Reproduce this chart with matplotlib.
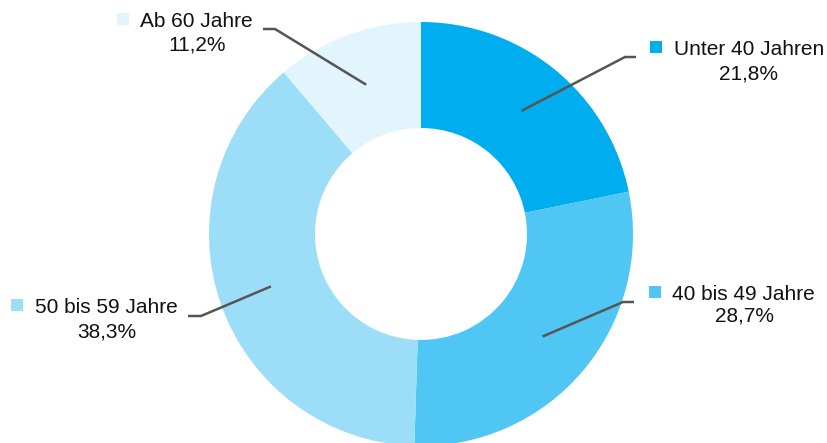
import numpy as np
import matplotlib.pyplot as plt

# ==========================================
# 1. DATA
# ==========================================
categories = ['Unter 40 Jahren', '40 bis 49 Jahre', '50 bis 59 Jahre', 'Ab 60 Jahre']
shares = [21.8, 28.7, 38.3, 11.2]
pct_labels = ['21,8%', '28,7%', '38,3%', '11,2%']
colors = ['#00AEEF', '#4FC6F4', '#9CDEF8', '#E2F4FC']

# ==========================================
# 2. LAYOUT (pixel positions, y measured from top)
# ==========================================
W, H = 827, 443
cx, cy = 421, 234
r_out, r_in = 212, 106
r_anchor = (r_out + r_in) / 2

# square x, text left x, text baseline, pct center x, pct baseline, elbow x, elbow y, line end x
layout = [
    (656, 674, 55, 749, 79, 625, 57, 636),
    (655, 672, 300, 744, 322, 623, 302, 634),
    (17, 35, 313, 107, 337, 201, 316, 188),
    (123, 140, 27, 197, 50, 275, 29, 263),
]

def fy(y):
    return H - y

# ==========================================
# 3. PLOT
# ==========================================
plt.rcParams['font.family'] = ['Liberation Sans', 'DejaVu Sans']
fig = plt.figure(figsize=(W / 100, H / 100), dpi=100)
ax = fig.add_axes([0, 0, 1, 1])

wedges, _ = ax.pie(shares, colors=colors, radius=r_out, center=(cx, fy(cy)),
                   startangle=90, counterclock=False,
                   wedgeprops=dict(width=r_out - r_in, linewidth=0))

for w, cat, pct, col, lay in zip(wedges, categories, pct_labels, colors, layout):
    sq_x, tx, ty, px, py, ex, ey, lx = lay
    mid = np.deg2rad((w.theta1 + w.theta2) / 2)
    ax0 = cx + r_anchor * np.cos(mid)
    ay0 = fy(cy) + r_anchor * np.sin(mid)
    ax.plot([ax0, ex, lx], [ay0, fy(ey), fy(ey)], color='#555555', lw=1.8,
            solid_capstyle='butt', zorder=3)
    ax.plot(sq_x, fy(ty - 8), marker='s', markersize=8, color=col, mew=0)
    ax.text(tx, fy(ty), cat, fontsize=15, ha='left', va='baseline', color='#111111')
    ax.text(px, fy(py), pct, fontsize=15, ha='center', va='baseline', color='#111111')

ax.set_xlim(0, W)
ax.set_ylim(0, H)
ax.set_aspect('equal')
ax.axis('off')

plt.savefig('out.png', dpi=100)
